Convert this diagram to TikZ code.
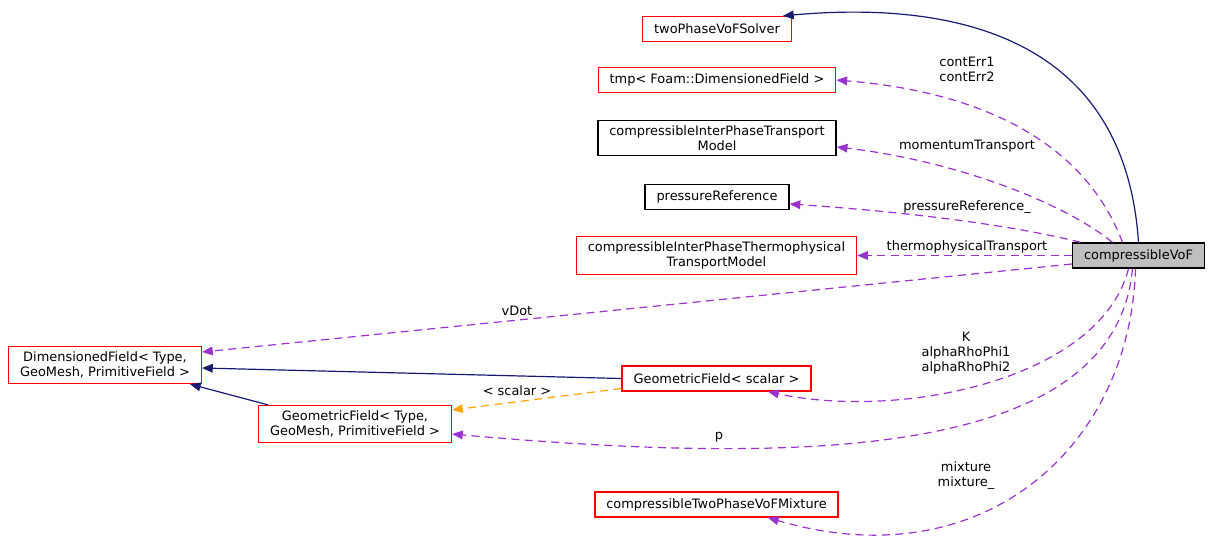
\documentclass[tikz,border=0pt]{standalone}
\usepackage{fontspec}
\setmainfont{DejaVu Sans}
\usepackage{xcolor}
\usetikzlibrary{arrows.meta}
\usetikzlibrary{calc}
\definecolor{inhblue}{HTML}{191970}
\definecolor{usepurple}{HTML}{9A32CD}
\definecolor{tplorange}{HTML}{FFA500}

\begin{document}
\begin{tikzpicture}[x=0.75pt,y=-0.75pt,
	font=\fontsize{9.7}{11.2}\selectfont]
	\useasboundingbox (0,0) rectangle (1211,540);
	\tikzstyle{classbox} = [draw=red,line width=1pt,fill=white,align=center,inner xsep=8.6pt,inner ysep=4pt,minimum height=18.75pt]
	\tikzstyle{docbox} = [classbox,draw=black]
	\tikzstyle{inh} = [-{Triangle[length=8pt,width=6.5pt]},draw=inhblue,line width=0.9pt]
	\tikzstyle{use} = [-{Triangle[length=8pt,width=6.5pt]},draw=usepurple,line width=0.9pt,dash pattern=on 6pt off 4pt]
	\tikzstyle{tpl} = [use,draw=tplorange]

	\node[docbox,fill=black!25] (a) at (1138.5,255.5) {compressibleVoF};
	\node[classbox] (b) at (717,29) {twoPhaseVoFSolver};
	\node[classbox] (c) at (717,80) {tmp< Foam::DimensionedField >};
	\node[docbox] (d) at (717,138) {compressibleInterPhaseTransport\\Model};
	\node[docbox] (e) at (717,197) {pressureReference};
	\node[classbox] (f) at (716.5,255.5) {compressibleInterPhaseThermophysical\\TransportModel};
	\node[classbox] (g) at (105,365) {DimensionedField< Type,\\ GeoMesh, PrimitiveField >};
	\node[classbox] (h) at (716.5,378.5) {GeometricField< scalar >};
	\node[classbox] (i) at (355,424) {GeometricField< Type,\\ GeoMesh, PrimitiveField >};
	\node[classbox] (j) at (716.5,504.5) {compressibleTwoPhaseVoFMixture};

	\draw[inh] (a.north) .. controls (1125,40) and (960,0) .. ($(b.north east)+(-9,0)$);

	\draw[use] ($(a.north)+(-16,0)$) .. controls (1080,130) and (960,90) .. (c.east);
	\node[align=center] at (967,69) {contErr1\\contErr2};

	\draw[use] ($(a.north)+(-26,0)$) .. controls (1060,200) and (950,160) .. ($(d.east)+(0,9)$);
	\node at (967,146) {momentumTransport};

	\draw[use] ($(a.north)+(-58,0)$) .. controls (1000,222) and (880,210) .. ($(e.east)+(0,7)$);
	\node at (967,207) {pressureReference\_};

	\draw[use] (a.west) -- (f.east);
	\node at (967,247) {thermophysicalTransport};

	\draw[use] ($(a.west)+(0,8.5)$) -- ($(g.east)+(0,-13)$);
	\node at (517,311) {vDot};

	\draw[use] ($(a.south)+(-10,0)$) .. controls (1100,380) and (900,420) .. ($(h.south)+(51.5,0)$);
	\node[align=center] at (966,353) {K\\alphaRhoPhi1\\alphaRhoPhi2};

	\draw[use] ($(a.south)+(-6,0)$) .. controls (1115,460) and (800,465) .. ($(i.east)+(0,10)$);
	\node at (719,437) {p};

	\draw[use] ($(a.south)+(-3,0)$) .. controls (1130,450) and (980,580) .. ($(j.south)+(51.5,0)$);
	\node[align=center] at (966,476) {mixture\\mixture\_};

	\draw[inh] (h.west) -- ($(g.east)+(0,3)$);
	\draw[inh] ($(i.north)+(-87,0)$) -- ($(g.south)+(85,0)$);

	\draw[tpl] ($(h.west)+(0,10)$) -- ($(i.east)+(0,-14)$);
	\node at (517,391) {< scalar >};
\end{tikzpicture}
\end{document}
